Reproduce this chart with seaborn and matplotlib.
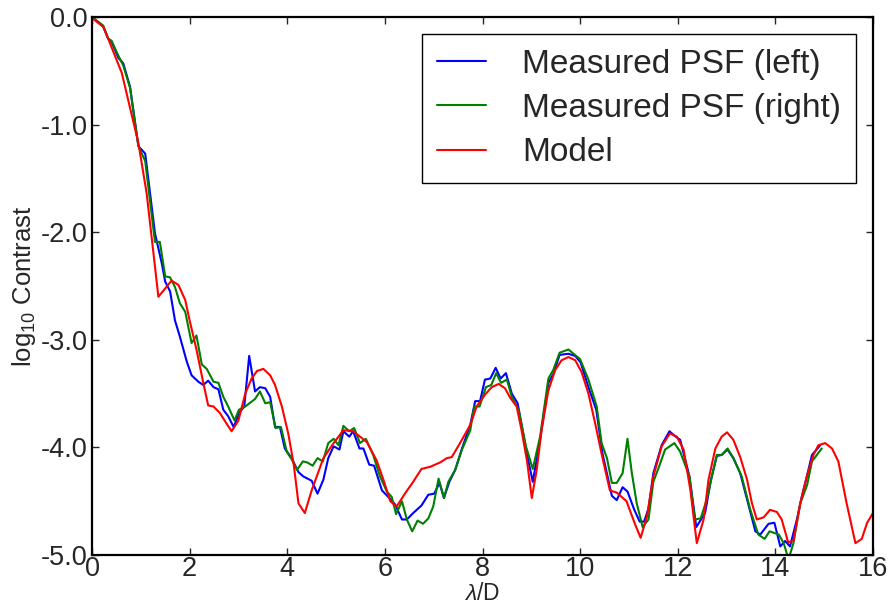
import numpy as np
import pandas as pd
import seaborn as sns
import matplotlib
matplotlib.use("Agg")
import matplotlib.pyplot as plt
from matplotlib.ticker import FormatStrFormatter, MultipleLocator

# --- data ---
left_x = [0, 0.23, 0.33, 0.40, 0.54, 0.64, 0.78, 0.95, 1.09, 1.29,
          1.43, 1.50, 1.60, 1.70, 1.80, 1.94, 2.04, 2.18, 2.28, 2.38,
          2.49, 2.59, 2.69, 2.79, 2.90, 3.03, 3.12, 3.22, 3.34, 3.44,
          3.55, 3.65, 3.75, 3.85, 3.95, 4.09, 4.23, 4.33, 4.50, 4.62,
          4.74, 4.84, 4.95, 5.07, 5.15, 5.27, 5.35, 5.48, 5.56, 5.68,
          5.78, 5.94, 6.07, 6.21, 6.35, 6.45, 6.58, 6.75, 6.89, 7.01,
          7.12, 7.21, 7.32, 7.44, 7.58, 7.75, 7.85, 7.95, 8.05, 8.16,
          8.27, 8.37, 8.48, 8.60, 8.72, 8.91, 9.03, 9.18, 9.35, 9.45,
          9.58, 9.76, 9.90, 10.01, 10.17, 10.33, 10.46, 10.65, 10.75, 10.87,
          10.97, 11.11, 11.22, 11.31, 11.40, 11.50, 11.67, 11.83, 11.93, 12.05,
          12.24, 12.38, 12.56, 12.68, 12.80, 12.90, 13.02, 13.14, 13.28, 13.47,
          13.59, 13.69, 13.86, 13.98, 14.10, 14.20, 14.30, 14.44, 14.54, 14.65,
          14.75, 14.92]
left_y = [0.00, -0.09, -0.20, -0.23, -0.38, -0.43, -0.65, -1.20, -1.27, -2.01,
          -2.29, -2.46, -2.55, -2.82, -2.97, -3.20, -3.33, -3.39, -3.42, -3.38,
          -3.44, -3.46, -3.65, -3.71, -3.81, -3.67, -3.62, -3.15, -3.48, -3.44,
          -3.45, -3.53, -3.81, -3.81, -4.01, -4.10, -4.23, -4.27, -4.31, -4.43,
          -4.30, -4.10, -3.99, -4.02, -3.85, -3.90, -3.85, -4.01, -4.01, -4.16,
          -4.17, -4.40, -4.46, -4.53, -4.67, -4.67, -4.61, -4.54, -4.44, -4.43,
          -4.33, -4.47, -4.32, -4.21, -4.01, -3.79, -3.57, -3.57, -3.37, -3.36,
          -3.26, -3.36, -3.31, -3.50, -3.59, -4.06, -4.32, -3.93, -3.40, -3.32,
          -3.14, -3.13, -3.15, -3.21, -3.44, -3.65, -4.06, -4.45, -4.49, -4.37,
          -4.41, -4.58, -4.69, -4.69, -4.57, -4.24, -3.98, -3.85, -3.89, -3.93,
          -4.27, -4.74, -4.61, -4.30, -4.08, -4.07, -4.02, -4.10, -4.24, -4.57,
          -4.78, -4.81, -4.71, -4.70, -4.92, -4.87, -4.92, -4.67, -4.46, -4.26,
          -4.07, -3.98]

right_x = [0, 0.23, 0.33, 0.40, 0.54, 0.64, 0.78, 0.95, 1.09, 1.29,
           1.39, 1.50, 1.60, 1.70, 1.80, 1.91, 2.04, 2.14, 2.25, 2.35,
           2.49, 2.59, 2.69, 2.79, 2.92, 3.01, 3.14, 3.34, 3.44, 3.55,
           3.65, 3.76, 3.87, 3.99, 4.09, 4.20, 4.32, 4.41, 4.52, 4.62,
           4.73, 4.84, 4.95, 5.05, 5.15, 5.27, 5.37, 5.49, 5.61, 5.76,
           5.90, 6.04, 6.14, 6.23, 6.35, 6.45, 6.56, 6.67, 6.78, 6.89,
           6.99, 7.10, 7.21, 7.30, 7.44, 7.58, 7.75, 7.83, 7.94, 8.07,
           8.18, 8.28, 8.38, 8.50, 8.60, 8.74, 8.89, 9.03, 9.18, 9.35,
           9.45, 9.58, 9.76, 10.00, 10.17, 10.34, 10.44, 10.55, 10.65, 10.75,
           10.87, 10.97, 11.06, 11.16, 11.28, 11.40, 11.50, 11.64, 11.74, 11.93,
           12.05, 12.24, 12.35, 12.47, 12.59, 12.80, 12.90, 13.02, 13.14, 13.31,
           13.48, 13.65, 13.78, 13.88, 14.07, 14.17, 14.27, 14.37, 14.51, 14.65,
           14.75, 14.85, 14.95]
right_y = [0.00, -0.08, -0.20, -0.22, -0.36, -0.45, -0.66, -1.20, -1.34, -2.09,
           -2.09, -2.41, -2.42, -2.51, -2.66, -2.74, -3.03, -2.96, -3.23, -3.27,
           -3.39, -3.40, -3.53, -3.62, -3.75, -3.65, -3.62, -3.55, -3.48, -3.59,
           -3.58, -3.82, -3.81, -4.04, -4.11, -4.21, -4.13, -4.14, -4.17, -4.10,
           -4.13, -3.96, -3.92, -3.98, -3.80, -3.85, -3.82, -3.96, -3.92, -4.07,
           -4.27, -4.41, -4.46, -4.62, -4.50, -4.67, -4.78, -4.68, -4.71, -4.66,
           -4.55, -4.29, -4.47, -4.32, -4.21, -4.02, -3.84, -3.62, -3.62, -3.44,
           -3.42, -3.31, -3.40, -3.37, -3.53, -3.65, -3.99, -4.20, -3.90, -3.36,
           -3.28, -3.12, -3.09, -3.18, -3.37, -3.62, -3.96, -4.10, -4.33, -4.33,
           -4.24, -3.92, -4.24, -4.52, -4.74, -4.67, -4.32, -4.15, -4.02, -3.96,
           -4.04, -4.27, -4.67, -4.66, -4.49, -4.07, -4.07, -4.01, -4.10, -4.27,
           -4.57, -4.81, -4.85, -4.78, -4.81, -4.89, -5.04, -4.89, -4.52, -4.35,
           -4.13, -4.07, -4.01]

model_x = [0, 0.23, 0.33, 0.61, 0.95, 1.12, 1.36, 1.63, 1.77, 1.91,
           2.00, 2.14, 2.28, 2.38, 2.49, 2.62, 2.73, 2.86, 3.00, 3.14,
           3.27, 3.38, 3.51, 3.65, 3.75, 3.89, 4.02, 4.13, 4.23, 4.36,
           4.50, 4.74, 4.95, 5.15, 5.35, 5.63, 5.83, 5.97, 6.11, 6.24,
           6.41, 6.58, 6.75, 6.93, 7.13, 7.27, 7.37, 7.54, 7.75, 7.88,
           8.05, 8.19, 8.33, 8.46, 8.57, 8.70, 8.80, 8.91, 9.01, 9.11,
           9.21, 9.35, 9.49, 9.62, 9.76, 9.90, 10.03, 10.17, 10.31, 10.44,
           10.61, 10.75, 10.95, 11.13, 11.24, 11.37, 11.50, 11.67, 11.84, 11.98,
           12.12, 12.26, 12.39, 12.53, 12.63, 12.77, 12.90, 13.01, 13.14, 13.28,
           13.42, 13.52, 13.62, 13.76, 13.89, 14.03, 14.13, 14.26, 14.37, 14.51,
           14.65, 14.78, 14.88, 15.02, 15.16, 15.29, 15.46, 15.64, 15.77, 15.88,
           16.00]
model_y = [-0.01, -0.09, -0.20, -0.52, -1.17, -1.64, -2.60, -2.45, -2.49, -2.63,
           -2.82, -3.09, -3.40, -3.61, -3.62, -3.68, -3.76, -3.85, -3.75, -3.50,
           -3.36, -3.29, -3.27, -3.33, -3.42, -3.62, -3.87, -4.15, -4.52, -4.61,
           -4.40, -4.10, -3.96, -3.84, -3.85, -3.95, -4.12, -4.30, -4.50, -4.55,
           -4.43, -4.32, -4.20, -4.18, -4.14, -4.10, -4.09, -3.96, -3.79, -3.62,
           -3.51, -3.44, -3.41, -3.45, -3.54, -3.62, -3.84, -4.12, -4.47, -4.21,
           -3.84, -3.47, -3.28, -3.19, -3.16, -3.19, -3.30, -3.50, -3.78, -4.06,
           -4.40, -4.42, -4.50, -4.72, -4.84, -4.64, -4.27, -3.99, -3.87, -3.90,
           -4.02, -4.40, -4.89, -4.67, -4.30, -4.01, -3.90, -3.86, -3.93, -4.09,
           -4.30, -4.52, -4.67, -4.65, -4.58, -4.60, -4.67, -4.88, -4.87, -4.52,
           -4.26, -4.07, -3.98, -3.96, -4.01, -4.13, -4.52, -4.89, -4.85, -4.70,
           -4.61]

series_names = ["Measured PSF (left)", "Measured PSF (right)", "Model"]
series_colors = ["#0000ff", "#008000", "#ff0000"]


def main():
    sns.set_style("ticks")
    plt.rcParams['font.family'] = ['Liberation Sans', 'DejaVu Sans']
    plt.rcParams['mathtext.fontset'] = 'custom'
    plt.rcParams['mathtext.rm'] = 'Liberation Sans'
    plt.rcParams['mathtext.it'] = 'Liberation Sans:italic'
    plt.rcParams['axes.unicode_minus'] = False

    fig = plt.figure(figsize=(8.93, 6.07), dpi=100)
    ax = fig.add_axes([92 / 893, 1 - 555 / 607, 781 / 893, 538 / 607])

    curves = [(left_x, left_y), (right_x, right_y), (model_x, model_y)]
    for (xs, ys), name, col in zip(curves, series_names, series_colors):
        df = pd.DataFrame({"x": xs, "y": ys})
        sns.lineplot(data=df, x="x", y="y", ax=ax, color=col, label=name,
                     lw=1.5, estimator=None, sort=False)

    ax.set_xlim(0, 16)
    ax.set_ylim(-5, 0)
    ax.xaxis.set_major_locator(MultipleLocator(2))
    ax.yaxis.set_major_locator(MultipleLocator(1))
    ax.yaxis.set_major_formatter(FormatStrFormatter('%.1f'))
    ax.tick_params(direction='in', top=True, right=True, length=5, width=1,
                   labelsize=19.5, pad=3)
    ax.tick_params(axis='x', pad=1)
    for s in ax.spines.values():
        s.set_linewidth(1.6)
        s.set_color('black')

    ax.set_xlabel(r"$\lambda$/D", fontsize=16.5, labelpad=0)
    ax.set_ylabel(r"log$_{10}$ Contrast", fontsize=18.5, labelpad=2)

    leg = ax.legend(loc='upper right', fontsize=24, fancybox=False,
                    handlelength=1.45, handletextpad=1.1, labelspacing=0.4,
                    borderpad=0.45, borderaxespad=0.5, framealpha=1)
    leg.get_frame().set_edgecolor('black')
    leg.get_frame().set_linewidth(1.0)

    fig.savefig("out.png", dpi=100)


if __name__ == '__main__':
    main()
